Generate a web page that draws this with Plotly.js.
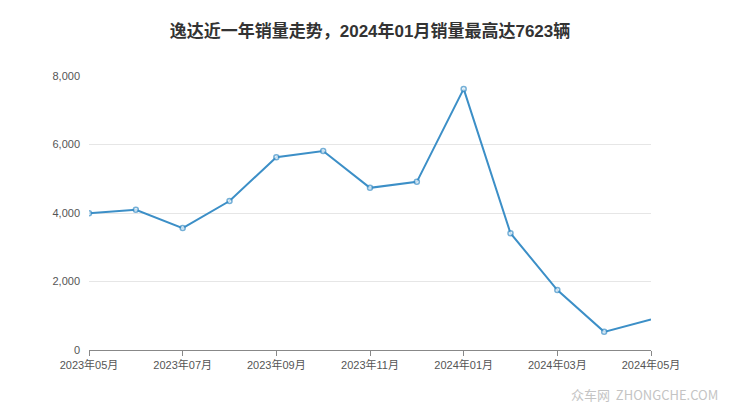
<!DOCTYPE html>
<html><head><meta charset="utf-8">
<script src="https://cdn.plot.ly/plotly-3.0.1.min.js"></script>
<style>body{margin:0;background:#fff}#c{width:740px;height:417px}</style>
</head><body><div id="c"></div>
<script>
const months = ["2023年05月","2023年06月","2023年07月","2023年08月","2023年09月","2023年10月","2023年11月","2023年12月","2024年01月","2024年02月","2024年03月","2024年04月","2024年05月"];
const sales = [3990, 4095, 3560, 4350, 5630, 5810, 4735, 4910, 7623, 3410, 1750, 530, 890];
const tickLabels = ["2023年05月","2023年07月","2023年09月","2023年11月","2024年01月","2024年03月","2024年05月"];

const trace = {
  x: months, y: sales, type: 'scatter', mode: 'lines+markers',
  line: {color: '#3c8fc7', width: 2},
  marker: {symbol: 'circle', size: sales.map((v,i)=> i===sales.length-1 ? 0 : 5), color: '#ffffff', line: {color: '#3c8fc7', width: 1.5}},
  cliponaxis: true, hoverinfo: 'x+y'
};
const layout = {
  width: 740, height: 417,
  margin: {l: 89, r: 89, t: 76, b: 67},
  paper_bgcolor: '#fff', plot_bgcolor: '#fff',
  showlegend: false,
  title: {text: '逸达近一年销量走势，2024年01月销量最高达7623辆', x: 0.5, xanchor: 'center', y: 0.925, yanchor: 'middle',
    font: {family: '"Liberation Sans", "Noto Sans CJK SC", sans-serif', size: 17, color: '#333', weight: 'bold'}},
  xaxis: {type: 'category', range: [0, months.length-1], tickvals: tickLabels, ticktext: tickLabels,
    showgrid: false, showline: true, linecolor: '#888', linewidth: 1,
    ticks: 'outside', ticklen: 5, tickcolor: '#888',
    tickfont: {family: '"Liberation Sans", "Noto Sans CJK SC", sans-serif', size: 11, color: '#555'}, fixedrange: true},
  yaxis: {range: [0, 8000], tickvals: [0,2000,4000,6000,8000], tickformat: ',d',
    showgrid: true, gridcolor: '#e6e6e6', zeroline: false, showline: false,
    ticks: '', ticklabelstandoff: 8,
    tickfont: {family: '"Liberation Sans", sans-serif', size: 11, color: '#555'}, fixedrange: true},
  annotations: [{text: '众车网  ZHONGCHE.COM', xref: 'paper', yref: 'paper', x: 1.123, y: -0.162, xanchor: 'right', yanchor: 'middle',
    showarrow: false, font: {family: '"Noto Sans CJK SC", "Liberation Sans", sans-serif', size: 13, color: '#c4c4c4'}}]
};
Plotly.newPlot('c', [trace], layout, {displayModeBar: false, staticPlot: true});
</script></body></html>
